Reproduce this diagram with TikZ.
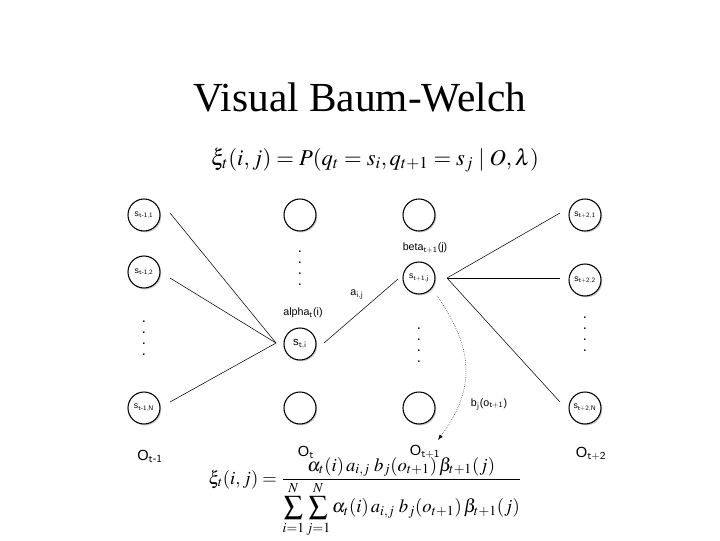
\documentclass[tikz,border=0pt]{standalone}
\usepackage{amsmath}
\usepackage{mathptmx}
\usepackage{fontspec}
\setmainfont{Liberation Serif}
\newfontfamily\lab{Liberation Sans}
\usetikzlibrary{shadows}
\newcommand{\vdts}{\shortstack[c]{.\\[4pt].\\[4pt].\\[4pt].}}
\begin{document}
\begin{tikzpicture}[x=0.75pt,y=-0.75pt]
\useasboundingbox (0,0) rectangle (720,540);
\tikzset{st/.style={circle,draw,thick,fill=white,minimum size=24pt,inner sep=0pt,font=\lab\fontsize{6.5}{6}\selectfont,
  drop shadow={shadow xshift=1pt,shadow yshift=-1pt,opacity=0.4}},
  lb/.style={font=\lab\fontsize{8}{8}\selectfont},
  ob/.style={font=\lab\fontsize{11}{12}\selectfont},
  vd/.style={font=\lab\fontsize{11}{3}\selectfont,inner sep=0pt}}
\node[font=\fontsize{31}{34}\selectfont] (title) at (360,97) {Visual Baum-Welch};
\node[font=\fontsize{17}{20}\selectfont] (f1) at (375,160) {$\xi_t(i,j)=P(q_t=s_i,q_{t+1}=s_j\mid O,\lambda)$};
% column 1
\node[st] (a1) at (144,215) {s$_\mathsf{t\text{-}1,1}$};
\node[st] (a2) at (144,272) {s$_\mathsf{t\text{-}1,2}$};
\node[st] (aN) at (144,408) {s$_\mathsf{t\text{-}1,N}$};
\node[vd] (ad) at (144,338) {\vdts};
% column 2
\node[st] (b1) at (300,215) {};
\node[st] (bi) at (300,344) {\fontsize{8.5}{8}\selectfont s$_\mathsf{t,i}$};
\node[st] (bN) at (300,408) {};
\node[vd] (bd) at (300,268) {\vdts};
% column 3
\node[st] (c1) at (419,215) {};
\node[st] (cj) at (419,278) {s$_\mathsf{t+1,j}$};
\node[st] (cN) at (419,408) {};
\node[vd] (cd) at (419,345) {\vdts};
% column 4
\node[st] (d1) at (585,215) {s$_\mathsf{t+2,1}$};
\node[st] (d2) at (585,280) {s$_\mathsf{t+2,2}$};
\node[st] (dN) at (585,408) {s$_\mathsf{t+2,N}$};
\node[vd] (dd) at (585,334) {\vdts};
% edges
\coordinate (hub) at (276,343);
\coordinate (hub2) at (447,278);
\draw (170,213) -- (hub);
\draw (170,278) -- (hub);
\draw (170,402) -- (hub);
\draw (324,343) -- (398,279);
\draw (hub2) -- (560,213);
\draw (hub2) -- (560,278);
\draw (hub2) -- (560,402);
\draw[densely dotted,-latex] (437,296) .. controls (475,350) and (475,390) .. (438,440);
% labels
\node[lb] (al) at (303,313) {alpha$_\mathsf{t}$(i)};
\node[lb] (be) at (425,248) {beta$_\mathsf{t+1}$(j)};
\node[lb] (aij) at (357,294) {a$_\mathsf{i,j}$};
\node[lb] (bj) at (489,404) {b$_\mathsf{j}$(o$_\mathsf{t+1}$)};
\node[ob] (o1) at (150,456) {O$_\mathsf{t\text{-}1}$};
\node[ob] (o2) at (306,452) {O$_\mathsf{t}$};
\node[ob] (o3) at (425,452) {O$_\mathsf{t+1}$};
\node[ob] (o4) at (591,454) {O$_\mathsf{t+2}$};
\node[font=\fontsize{14}{16}\selectfont] (f2) at (365,497) {$\displaystyle\xi_t(i,j)=\frac{\alpha_t(i)\,a_{i,j}\;b_j(o_{t+1})\,\beta_{t+1}(j)}{\displaystyle\sum_{i=1}^{N}\sum_{j=1}^{N}\alpha_t(i)\,a_{i,j}\;b_j(o_{t+1})\,\beta_{t+1}(j)}$};
\end{tikzpicture}
\end{document}
